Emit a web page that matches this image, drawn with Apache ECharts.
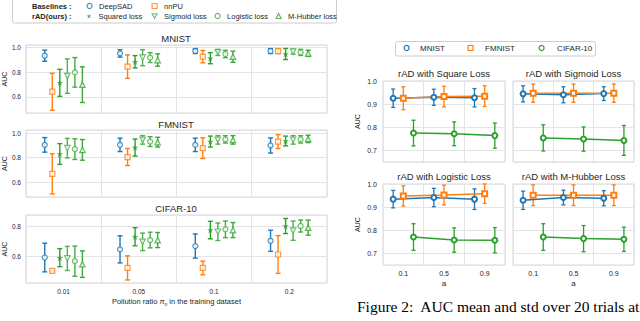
<!DOCTYPE html>
<html><head><meta charset="utf-8">
<script src="https://cdn.jsdelivr.net/npm/echarts@6/dist/echarts.min.js"></script>
<style>html,body{margin:0;padding:0;background:#fff}#c{width:640px;height:321px}</style>
</head><body><div id="c"></div>
<script>
// ---------- Left figure data ----------
const pollution = ['0.01', '0.05', '0.1', '0.2'];
const methodNames = ['DeepSAD', 'nnPU', 'Squared loss', 'Sigmoid loss', 'Logistic loss', 'M-Hubber loss'];
const panelNames = ['MNIST', 'FMNIST', 'CIFAR-10'];
// rows: methods, cols: pollution ratio
const mnistMean = [
  [0.935, 0.954, 0.973, 0.973],
  [0.643, 0.846, 0.927, 0.973],
  [0.715, 0.886, 0.915, 0.949],
  [0.770, 0.919, 0.962, 0.968],
  [0.800, 0.920, 0.949, 0.962],
  [0.700, 0.900, 0.927, 0.954]
];
const mnistStd = [
  [0.045, 0.030, 0.020, 0.020],
  [0.150, 0.095, 0.050, 0.020],
  [0.110, 0.050, 0.045, 0.045],
  [0.140, 0.065, 0.025, 0.020],
  [0.120, 0.040, 0.030, 0.025],
  [0.145, 0.050, 0.045, 0.025]
];
const fmnistMean = [
  [0.905, 0.905, 0.905, 0.900],
  [0.667, 0.805, 0.878, 0.932],
  [0.830, 0.883, 0.932, 0.937],
  [0.878, 0.946, 0.946, 0.946],
  [0.870, 0.932, 0.950, 0.950],
  [0.864, 0.927, 0.946, 0.954]
];
const fmnistStd = [
  [0.060, 0.055, 0.055, 0.062],
  [0.165, 0.070, 0.085, 0.057],
  [0.085, 0.070, 0.045, 0.040],
  [0.080, 0.035, 0.035, 0.035],
  [0.085, 0.040, 0.030, 0.030],
  [0.085, 0.040, 0.035, 0.030]
];
const cifarMean = [
  [0.591, 0.645, 0.667, 0.702],
  [0.502, 0.522, 0.522, 0.611],
  [0.590, 0.729, 0.773, 0.800],
  [0.585, 0.695, 0.762, 0.769],
  [0.567, 0.707, 0.778, 0.800],
  [0.547, 0.707, 0.773, 0.789]
];
const cifarStd = [
  [0.095, 0.090, 0.080, 0.070],
  [0.005, 0.080, 0.045, 0.125],
  [0.060, 0.060, 0.058, 0.050],
  [0.080, 0.058, 0.058, 0.064],
  [0.100, 0.052, 0.055, 0.040],
  [0.088, 0.050, 0.050, 0.050]
];

// ---------- Right figure data ----------
const aValues = ['0.1', '0.5', '0.9'];
const datasetNames = ['MNIST', 'FMNIST', 'CIFAR-10'];
const lossTitles = ['rAD with Square Loss', 'rAD with Sigmoid Loss', 'rAD with Logistic Loss', 'rAD with M-Hubber Loss'];
// rows: MNIST, FMNIST, CIFAR-10 ; cols: a
const squareMean = [[0.928, 0.932, 0.930], [0.928, 0.935, 0.937], [0.776, 0.773, 0.765]];
const squareStd = [[0.040, 0.035, 0.040], [0.050, 0.045, 0.045], [0.056, 0.052, 0.055]];
const sigmoidMean = [[0.947, 0.943, 0.948], [0.950, 0.950, 0.950], [0.755, 0.750, 0.744]];
const sigmoidStd = [[0.035, 0.035, 0.030], [0.040, 0.040, 0.040], [0.057, 0.053, 0.065]];
const logisticMean = [[0.937, 0.944, 0.937], [0.951, 0.955, 0.961], [0.772, 0.759, 0.758]];
const logisticStd = [[0.038, 0.040, 0.045], [0.044, 0.043, 0.042], [0.058, 0.053, 0.055]];
const hubberMean = [[0.932, 0.944, 0.941], [0.954, 0.954, 0.954], [0.772, 0.765, 0.762]];
const hubberStd = [[0.040, 0.032, 0.033], [0.045, 0.045, 0.045], [0.058, 0.057, 0.053]];

// ---------- styling ----------
const FONT = 'Liberation Sans, Arial, sans-serif';
const TXT = '#262626';
const GRIDC = '#e4e4e4';
const BORDERC = '#d6d6d6';
const methodColors = ['#1f77b4', '#ff7f0e', '#2ca02c', '#4db34d', '#45ad45', '#3aa83a'];
const STAR = 'path://M5,0 L6.2,3.6 L10,3.6 L7,5.9 L8.1,9.5 L5,7.3 L1.9,9.5 L3,5.9 L0,3.6 L3.8,3.6 Z';
const TRI_DOWN = 'path://M0,0 L10,0 L5,9 Z';
const methodSymbols = ['circle', 'rect', STAR, TRI_DOWN, 'circle', 'triangle'];
const methodFilled = [false, false, true, false, false, false];
const methodSizes = [5, 5, 6.5, 5.5, 5, 5.5];
const dodgeLeft = [-0.25, -0.15, -0.05, 0.05, 0.15, 0.25];
const dsColors = ['#1f77b4', '#ff7f0e', '#2ca02c'];
const dsSymbols = ['emptyCircle', 'emptyRect', 'emptyCircle'];
const dodgeRight = [-0.25, 0, 0.25];

const leftPanels = [
  { mean: mnistMean, std: mnistStd, top: 45, height: 68, min: 0.47, max: 1.022 },
  { mean: fmnistMean, std: fmnistStd, top: 130, height: 67, min: 0.477, max: 1.027 },
  { mean: cifarMean, std: cifarStd, top: 215, height: 68, min: 0.422, max: 0.873 }
];
const rightPanels = [
  { mean: squareMean, std: squareStd, left: 383, top: 81, width: 122 },
  { mean: sigmoidMean, std: sigmoidStd, left: 513, top: 81, width: 121 },
  { mean: logisticMean, std: logisticStd, left: 383, top: 184, width: 122 },
  { mean: hubberMean, std: hubberStd, left: 513, top: 184, width: 121 }
];

function errRender(capHalf, color, lw) {
  return function (params, api) {
    const x = api.value(0), m = api.value(1), s = api.value(2);
    const lo = api.coord([x, m - s]), hi = api.coord([x, m + s]);
    const st = { stroke: color, lineWidth: lw };
    return {
      type: 'group', children: [
        { type: 'line', shape: { x1: lo[0], y1: lo[1], x2: hi[0], y2: hi[1] }, style: st },
        { type: 'line', shape: { x1: lo[0] - capHalf, y1: lo[1], x2: lo[0] + capHalf, y2: lo[1] }, style: st },
        { type: 'line', shape: { x1: hi[0] - capHalf, y1: hi[1], x2: hi[0] + capHalf, y2: hi[1] }, style: st }
      ]
    };
  };
}
function multiple(v, step) { return Math.abs(v / step - Math.round(v / step)) < 1e-6; }

const grid = [], xAxis = [], yAxis = [], series = [];

// left panels
leftPanels.forEach((p, g) => {
  grid.push({ left: 25, width: 302, top: p.top, height: p.height, show: true, borderColor: BORDERC, borderWidth: 1 });
  const isLast = g === leftPanels.length - 1;
  xAxis.push({
    type: 'category', gridIndex: g, data: pollution, boundaryGap: true,
    axisLine: { show: false }, axisTick: { show: false },
    axisLabel: { show: isLast, fontSize: 6.5, color: TXT, fontFamily: FONT, margin: 5 },
    splitLine: { show: true, lineStyle: { color: GRIDC, width: 1 } },
    name: isLast ? 'Pollution ratio {i|π}{s|n} in the training dataset' : '',
    nameLocation: 'middle', nameGap: 13,
    nameTextStyle: {
      fontSize: 7.5, color: TXT, fontFamily: FONT, lineHeight: 10,
      rich: { i: { fontStyle: 'italic', fontSize: 7.5, fontFamily: FONT, color: TXT, lineHeight: 10 },
              s: { fontSize: 5, fontFamily: FONT, color: TXT, verticalAlign: 'bottom', lineHeight: 6 } }
    }
  });
  xAxis.push({ type: 'value', gridIndex: g, min: -0.5, max: pollution.length - 0.5, show: false });
  yAxis.push({
    type: 'value', gridIndex: g, min: p.min, max: p.max, minInterval: 0.2, maxInterval: 0.2,
    axisLine: { show: false }, axisTick: { show: false },
    axisLabel: { fontSize: 6.5, color: TXT, fontFamily: FONT, margin: 5,
      formatter: v => multiple(v, 0.2) ? v.toFixed(1) : '' },
    splitLine: { show: true, lineStyle: { color: GRIDC, width: 1 } },
    name: 'AUC', nameLocation: 'middle', nameRotate: 90, nameGap: 13,
    nameTextStyle: { fontSize: 7, color: TXT, fontFamily: FONT }
  });
  methodNames.forEach((mName, k) => {
    const errData = pollution.map((c, i) => [i + dodgeLeft[k], p.mean[k][i], p.std[k][i]]);
    const ptData = pollution.map((c, i) => [i + dodgeLeft[k], p.mean[k][i]]);
    series.push({
      type: 'custom', name: mName + ' std', xAxisIndex: 2 * g + 1, yAxisIndex: g,
      renderItem: errRender(2.5, methodColors[k], 1.4), encode: { x: 0, y: 1 },
      data: errData, z: 2, silent: true
    });
    series.push({
      type: 'scatter', name: mName, xAxisIndex: 2 * g + 1, yAxisIndex: g,
      symbol: methodSymbols[k], symbolSize: methodSizes[k],
      itemStyle: methodFilled[k]
        ? { color: methodColors[k] }
        : { color: '#fff', borderColor: methodColors[k], borderWidth: 1.2 },
      data: ptData, z: 3
    });
  });
});

// right panels
rightPanels.forEach((p, j) => {
  const g = leftPanels.length + j;
  const bottomRow = j >= 2, leftCol = j % 2 === 0;
  grid.push({ left: p.left, width: p.width, top: p.top, height: 81, show: true, borderColor: BORDERC, borderWidth: 1 });
  xAxis.push({
    type: 'category', gridIndex: g, data: aValues, boundaryGap: true,
    axisLine: { show: false }, axisTick: { show: false },
    axisLabel: { show: bottomRow, fontSize: 7, color: TXT, fontFamily: FONT, margin: 5 },
    splitLine: { show: true, lineStyle: { color: GRIDC, width: 1 } },
    name: bottomRow ? 'a' : '', nameLocation: 'middle', nameGap: 14,
    nameTextStyle: { fontSize: 8, color: TXT, fontFamily: FONT }
  });
  xAxis.push({ type: 'value', gridIndex: g, min: -0.5, max: aValues.length - 0.5, show: false });
  yAxis.push({
    type: 'value', gridIndex: g, min: 0.65, max: 1.003, minInterval: 0.1, maxInterval: 0.1,
    axisLine: { show: false }, axisTick: { show: false },
    axisLabel: { show: leftCol, fontSize: 7, color: TXT, fontFamily: FONT, margin: 6,
      formatter: v => multiple(v, 0.1) ? v.toFixed(1) : '' },
    splitLine: { show: true, lineStyle: { color: GRIDC, width: 1 } },
    name: leftCol ? 'AUC' : '', nameLocation: 'middle', nameRotate: 90, nameGap: 22,
    nameTextStyle: { fontSize: 7, color: TXT, fontFamily: FONT }
  });
  datasetNames.forEach((dName, d) => {
    const errData = aValues.map((c, i) => [i + dodgeRight[d], p.mean[d][i], p.std[d][i]]);
    const ptData = aValues.map((c, i) => [i + dodgeRight[d], p.mean[d][i]]);
    series.push({
      type: 'custom', name: dName + ' std', xAxisIndex: 2 * g + 1, yAxisIndex: g,
      renderItem: errRender(2, dsColors[d], 1.3), encode: { x: 0, y: 1 },
      data: errData, z: 2, silent: true
    });
    series.push({
      type: 'line', name: dName, xAxisIndex: 2 * g + 1, yAxisIndex: g,
      symbol: dsSymbols[d], symbolSize: 5, showAllSymbol: true,
      lineStyle: { color: dsColors[d], width: 1.5 },
      itemStyle: { color: dsColors[d], borderWidth: 1.2 },
      data: ptData, z: 3
    });
  });
});

// legends: one per entry, placed at the reference marker position
function leg(name, cx, cy, icon, style, size, fs, textPad) {
  return {
    left: cx - size / 2, top: cy - 4.5, padding: 0, itemWidth: size, itemHeight: size,
    selectedMode: false,
    data: [{ name: name, icon: icon, itemStyle: style }],
    textStyle: { fontSize: fs, color: TXT, fontFamily: FONT, lineHeight: 9, padding: [0, 0, 0, textPad] }
  };
}
function hollow(c) { return { color: '#fff', borderColor: c, borderWidth: 1.2 }; }
const legend = [
  leg('DeepSAD', 89, 6, 'circle', hollow(methodColors[0]), 5, 7.5, 2),
  leg('nnPU', 154, 6, 'rect', hollow(methodColors[1]), 5, 7.5, 2),
  leg('Squared loss', 89, 16, STAR, { color: methodColors[2] }, 5, 7.5, 2),
  leg('Sigmoid loss', 154, 16, TRI_DOWN, hollow(methodColors[3]), 5, 7.5, 2),
  leg('Logistic loss', 217, 16, 'circle', hollow(methodColors[4]), 5, 7.5, 2),
  leg('M-Hubber loss', 278, 16, 'triangle', hollow(methodColors[5]), 5, 7.5, 2),
  leg('MNIST', 406, 48, 'circle', hollow(dsColors[0]), 5, 8, 6),
  leg('FMNIST', 470, 48, 'rect', hollow(dsColors[1]), 5, 8, 7),
  leg('CIFAR-10', 541, 48, 'circle', hollow(dsColors[2]), 5, 8, 8)
];

function txt(text, x, y, size, opts) {
  return Object.assign({
    type: 'text', x: x, y: y, silent: true,
    style: { text: text, fontSize: size, fontFamily: FONT, fill: TXT, align: 'center', verticalAlign: 'middle' }
  }, opts || {});
}
const graphic = [
  { type: 'rect', shape: { x: 12.5, y: -2, width: 324, height: 25, r: 2 }, style: { fill: '#fff', stroke: '#cccccc', lineWidth: 1 }, z: -1, silent: true },
  { type: 'rect', shape: { x: 395.5, y: 41.5, width: 200, height: 14.5, r: 2 }, style: { fill: '#fff', stroke: '#cccccc', lineWidth: 1 }, z: -1, silent: true },
  { type: 'text', x: 32, y: 6, silent: true, style: { text: 'Baselines :', fontSize: 7.5, fontWeight: 'bold', fontFamily: FONT, fill: TXT, align: 'left', verticalAlign: 'middle' } },
  { type: 'text', x: 32, y: 16, silent: true, style: { text: 'rAD(ours) :', fontSize: 7.5, fontWeight: 'bold', fontFamily: FONT, fill: TXT, align: 'left', verticalAlign: 'middle' } },
  txt(panelNames[0], 176, 38, 9.5),
  txt(panelNames[1], 176, 124, 9.5),
  txt(panelNames[2], 176, 208, 9.5),
  txt(lossTitles[0], 444, 73, 9.5),
  txt(lossTitles[1], 573.5, 73, 9.5),
  txt(lossTitles[2], 444, 176, 9.5),
  txt(lossTitles[3], 573.5, 176, 9.5),
  { type: 'text', x: 357, y: 306, silent: true, style: { text: 'Figure 2:  AUC mean and std over 20 trials at', fontSize: 15.5, fontFamily: 'Liberation Serif, DejaVu Serif, serif', fill: '#000', align: 'left', verticalAlign: 'middle' } }
];

const chart = echarts.init(document.getElementById('c'), null, { renderer: 'svg' });
chart.setOption({
  animation: false,
  backgroundColor: '#fff',
  graphic: graphic,
  legend: legend,
  grid: grid,
  xAxis: xAxis,
  yAxis: yAxis,
  series: series
});
</script>
</body></html>
